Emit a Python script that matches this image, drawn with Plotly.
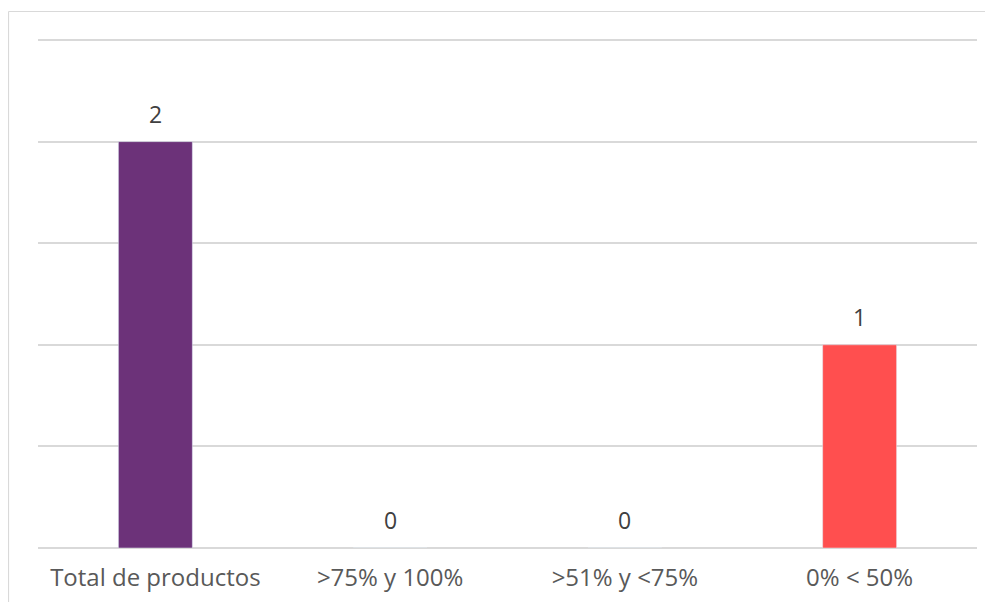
import plotly.graph_objects as go

categories = ["Total de productos", ">75% y 100%", ">51% y <75%", "0% < 50%"]
values = [2, 0, 0, 1]
colors = ["#6C3279", "#6C3279", "#6C3279", "#FF4F4F"]

FONT = "Open Sans"

fig = go.Figure()
fig.add_trace(go.Bar(
    x=categories, y=values, marker_color=colors, width=0.315,
    hoverinfo="x+y",
))

for c, v in zip(categories, values):
    fig.add_annotation(x=c, y=v, text=str(v), showarrow=False, yanchor="bottom",
                       yshift=10, font=dict(family=FONT, size=23, color="#404040"))

L, R, T, B = 30, 24, 30, 62
W, H = 993, 602
pw, ph = W - L - R, H - T - B

def px(x):
    return (x - L) / pw

def py(y):
    return (H - B - y) / ph

line = dict(color="#d9d9d9", width=1.2)
fig.add_shape(type="line", xref="paper", yref="paper", x0=px(0.5), x1=px(1000), y0=py(3.5), y1=py(3.5), line=line)
fig.add_shape(type="line", xref="paper", yref="paper", x0=px(0.5), x1=px(0.5), y0=py(3.5), y1=py(610), line=line)

fig.update_layout(
    width=W, height=H,
    margin=dict(l=L, r=R, t=T, b=B),
    plot_bgcolor="white", paper_bgcolor="white",
    showlegend=False,
    font=dict(family=FONT, size=24, color="#595959"),
    xaxis=dict(showgrid=False, showline=False, ticks="", ticklabelstandoff=13,
               tickfont=dict(family=FONT, size=24, color="#595959")),
    yaxis=dict(range=[0, 2.51], tickvals=[0.5, 1, 1.5, 2, 2.5], showgrid=True, gridcolor="#d9d9d9", gridwidth=1.5,
               showticklabels=False, zeroline=True, zerolinecolor="#d9d9d9", zerolinewidth=1.5),
)

fig.write_html("out.html")
